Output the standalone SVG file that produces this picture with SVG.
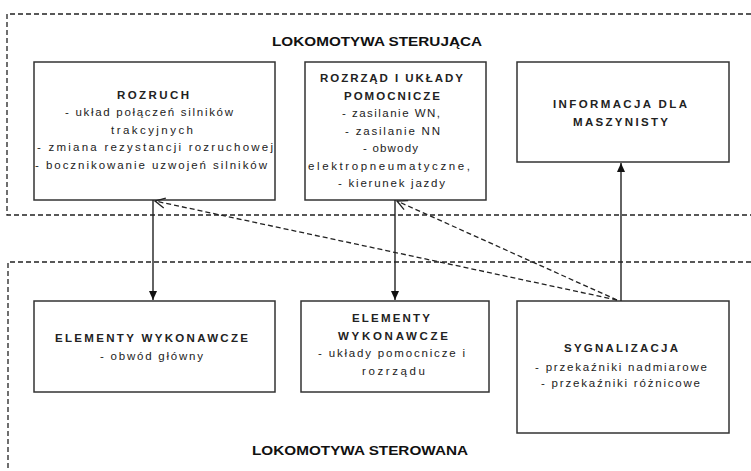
<svg xmlns="http://www.w3.org/2000/svg" width="751" height="471" viewBox="0 0 751 471">
<defs>
<style>
.bg{fill:#fff}
.box{fill:#fff;stroke:#333;stroke-width:1.5}
.region{fill:none;stroke:#222;stroke-width:1.3;stroke-dasharray:5 3}
.t{font-family:"Liberation Sans",Arial,sans-serif;font-size:11.5px;fill:#222;text-anchor:middle}
.h{font-weight:bold}
.title{font-family:"Liberation Sans",Arial,sans-serif;font-size:12px;font-weight:bold;fill:#111;text-anchor:middle}
.solid{fill:none;stroke:#222;stroke-width:1.4}
.dash{fill:none;stroke:#222;stroke-width:1.3;stroke-dasharray:5 3}
</style>
<marker id="fill" markerWidth="10" markerHeight="10" refX="9" refY="5" orient="auto" markerUnits="userSpaceOnUse">
<path d="M0,1 L9,5 L0,9 Z" fill="#111"/>
</marker>
<marker id="open" markerWidth="14" markerHeight="14" refX="12" refY="7" orient="auto" markerUnits="userSpaceOnUse">
<path d="M2,2 L12,7 L2,12" fill="none" stroke="#222" stroke-width="1.3"/>
</marker>
</defs>
<rect class="bg" x="0" y="0" width="751" height="471"/>

<g id="region-sterujaca">
<path class="region" d="M751,14 H7 V215 H751"/>
<text class="title" x="377" y="46" textLength="210" lengthAdjust="spacingAndGlyphs">LOKOMOTYWA STERUJĄCA</text>
</g>
<g id="region-sterowana">
<path class="region" d="M751,262 H8 V471"/>
<text class="title" x="360" y="455" textLength="216" lengthAdjust="spacingAndGlyphs">LOKOMOTYWA STEROWANA</text>
</g>

<g id="rozruch">
<rect class="box" x="34" y="62" width="241" height="138"/>
<text class="t h" x="153" y="99" textLength="72" lengthAdjust="spacing">ROZRUCH</text>
<text class="t" x="149" y="116" textLength="168" lengthAdjust="spacing">- układ połączeń silników</text>
<text class="t" x="152" y="133.5" textLength="82" lengthAdjust="spacing">trakcyjnych</text>
<text class="t" x="155" y="151" textLength="236" lengthAdjust="spacing">- zmiana rezystancji rozruchowej</text>
<text class="t" x="151" y="168.5" textLength="232" lengthAdjust="spacing">- bocznikowanie uzwojeń silników</text>
</g>

<g id="rozrzad">
<rect class="box" x="305" y="62" width="181" height="138"/>
<text class="t h" x="391.5" y="82" textLength="143" lengthAdjust="spacing">ROZRZĄD I UKŁADY</text>
<text class="t h" x="392" y="99.5" textLength="96" lengthAdjust="spacing">POMOCNICZE</text>
<text class="t" x="391" y="117" textLength="98" lengthAdjust="spacing">- zasilanie WN,</text>
<text class="t" x="392.5" y="134.5" textLength="95" lengthAdjust="spacing">- zasilanie NN</text>
<text class="t" x="390.5" y="152" textLength="55" lengthAdjust="spacing">- obwody</text>
<text class="t" x="389" y="169.5" textLength="162" lengthAdjust="spacing">elektropneumatyczne,</text>
<text class="t" x="391.5" y="187" textLength="107" lengthAdjust="spacing">- kierunek jazdy</text>
</g>

<g id="informacja">
<rect class="box" x="517" y="62" width="212" height="100"/>
<text class="t h" x="620" y="108" textLength="134" lengthAdjust="spacing">INFORMACJA DLA</text>
<text class="t h" x="620.5" y="125.5" textLength="95" lengthAdjust="spacing">MASZYNISTY</text>
</g>

<g id="elementy-1">
<rect class="box" x="34" y="301" width="241" height="91"/>
<text class="t h" x="151.5" y="342" textLength="193" lengthAdjust="spacing">ELEMENTY WYKONAWCZE</text>
<text class="t" x="151.5" y="359.5" textLength="103" lengthAdjust="spacing">- obwód główny</text>
</g>

<g id="elementy-2">
<rect class="box" x="301" y="301" width="188" height="91"/>
<text class="t h" x="391" y="322" textLength="78" lengthAdjust="spacing">ELEMENTY</text>
<text class="t h" x="393" y="339.5" textLength="110" lengthAdjust="spacing">WYKONAWCZE</text>
<text class="t" x="391.5" y="357" textLength="147" lengthAdjust="spacing">- układy pomocnicze i</text>
<text class="t" x="393.5" y="374.5" textLength="63" lengthAdjust="spacing">rozrządu</text>
</g>

<g id="sygnalizacja">
<rect class="box" x="517" y="301" width="212" height="132"/>
<text class="t h" x="621" y="352" textLength="114" lengthAdjust="spacing">SYGNALIZACJA</text>
<text class="t" x="621" y="370.5" textLength="172" lengthAdjust="spacing">- przekaźniki nadmiarowe</text>
<text class="t" x="620.5" y="387" textLength="159" lengthAdjust="spacing">- przekaźniki różnicowe</text>
</g>

<g id="connectors">
<line class="solid" x1="153" y1="200" x2="153" y2="300" marker-end="url(#fill)"/>
<line class="solid" x1="395" y1="200" x2="395" y2="300" marker-end="url(#fill)"/>
<line class="solid" x1="621" y1="301" x2="621" y2="163" marker-end="url(#fill)"/>
<line class="dash" x1="617" y1="300" x2="155" y2="201" marker-end="url(#open)"/>
<line class="dash" x1="617" y1="300" x2="397" y2="201" marker-end="url(#open)"/>
</g>
</svg>
